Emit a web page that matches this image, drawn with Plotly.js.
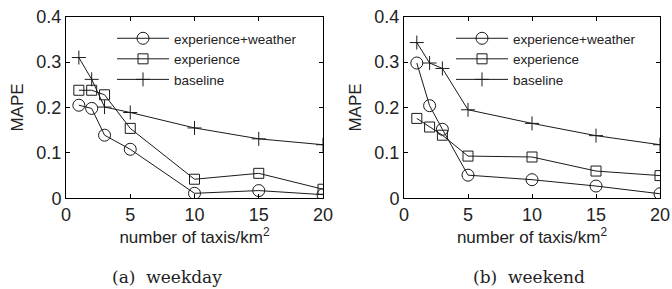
<!DOCTYPE html>
<html>
<head>
<meta charset="utf-8">
<script src="https://cdn.plot.ly/plotly-3.0.1.min.js"></script>
<style>html,body{margin:0;padding:0;background:#fff;}#chart{width:672px;height:289px;}</style>
</head>
<body>
<div id="chart"></div>
<script>
// taxi density (number of taxis per km^2)
const density = [1, 2, 3, 5, 10, 15, 20];
const seriesNames = ["experience+weather", "experience", "baseline"];

// (a) weekday MAPE
const weekdayExpWeather = [0.205, 0.198, 0.139, 0.108, 0.011, 0.017, 0.008];
const weekdayExp        = [0.238, 0.238, 0.228, 0.154, 0.042, 0.055, 0.020];
const weekdayBaseline   = [0.310, 0.262, 0.201, 0.189, 0.155, 0.131, 0.118];

// (b) weekend MAPE
const weekendExpWeather = [0.298, 0.204, 0.152, 0.051, 0.041, 0.027, 0.010];
const weekendExp        = [0.176, 0.157, 0.139, 0.093, 0.091, 0.060, 0.050];
const weekendBaseline   = [0.343, 0.298, 0.286, 0.195, 0.165, 0.138, 0.118];

const captions = ["(a)  weekday", "(b)  weekend"];
const xTitle = "number of taxis/km<sup>2</sup>";
const yTitle = "MAPE";
const xTicks = [0, 5, 10, 15, 20];
const yTicks = [0, 0.1, 0.2, 0.3, 0.4];

const lineColor = "#1a1a1a";
const symbols = ["circle-open", "square-open", "cross-thin-open"];
const sizes = [12, 10, 10];

function mk(y, i, xa, ya, leg) {
  return {
    x: density, y: y, name: seriesNames[i], type: "scatter", mode: "lines+markers",
    xaxis: xa, yaxis: ya, legend: leg,
    line: {color: lineColor, width: 1},
    marker: {symbol: symbols[i], size: sizes[i], color: lineColor, line: {color: lineColor, width: 1}}
  };
}

const data = [
  mk(weekdayExpWeather, 0, "x", "y", "legend"),
  mk(weekdayExp, 1, "x", "y", "legend"),
  mk(weekdayBaseline, 2, "x", "y", "legend"),
  mk(weekendExpWeather, 0, "x2", "y2", "legend2"),
  mk(weekendExp, 1, "x2", "y2", "legend2"),
  mk(weekendBaseline, 2, "x2", "y2", "legend2")
];

const W = 672, H = 289;
const tickFont = {family: "Liberation Sans, Arial, sans-serif", size: 18, color: "#222"};
const titleFont = {family: "Liberation Sans, Arial, sans-serif", size: 17, color: "#222"};

function xaxis(dom, anchor) {
  return {
    domain: dom, anchor: anchor, range: [0, 20], tickvals: xTicks,
    showline: true, linecolor: "#000", linewidth: 1, mirror: "ticks",
    ticks: "inside", ticklen: 4, tickcolor: "#000", showgrid: false, zeroline: false,
    tickfont: tickFont,
    title: {text: xTitle, font: titleFont, standoff: 4}
  };
}
function yaxis(anchor) {
  return {
    domain: [90.7 / H, 272.3 / H], anchor: anchor, range: [0, 0.4], tickvals: yTicks,
    showline: true, linecolor: "#000", linewidth: 1, mirror: "ticks",
    ticks: "inside", ticklen: 4, tickcolor: "#000", showgrid: false, zeroline: false,
    tickfont: tickFont,
    title: {text: yTitle, font: titleFont, standoff: 8}
  };
}

const legendStyle = (x) => ({
  x: x, y: 1 - 23 / H, xref: "paper", yref: "paper", xanchor: "left", yanchor: "top",
  bgcolor: "rgba(0,0,0,0)", borderwidth: 0,
  font: {family: "Liberation Sans, Arial, sans-serif", size: 13.5, color: "#222"},
  itemwidth: 52, tracegroupgap: 0
});

const layout = {
  width: W, height: H,
  margin: {l: 0, r: 0, t: 0, b: 0},
  paper_bgcolor: "#fff", plot_bgcolor: "#fff",
  showlegend: true,
  xaxis: xaxis([66 / W, 323 / W], "y"),
  yaxis: yaxis("x"),
  xaxis2: xaxis([404 / W, 660 / W], "y2"),
  yaxis2: yaxis("x2"),
  legend: legendStyle(112 / W),
  legend2: legendStyle(451 / W),
  annotations: [
    {text: captions[0], xref: "paper", yref: "paper", x: 167 / W, y: 1 - 277 / H, showarrow: false,
     xanchor: "center", yanchor: "middle", font: {family: "DejaVu Serif, serif", size: 17, color: "#222"}},
    {text: captions[1], xref: "paper", yref: "paper", x: 529 / W, y: 1 - 277 / H, showarrow: false,
     xanchor: "center", yanchor: "middle", font: {family: "DejaVu Serif, serif", size: 17, color: "#222"}}
  ]
};

Plotly.newPlot("chart", data, layout, {displayModeBar: false, staticPlot: true});
</script>
</body>
</html>
